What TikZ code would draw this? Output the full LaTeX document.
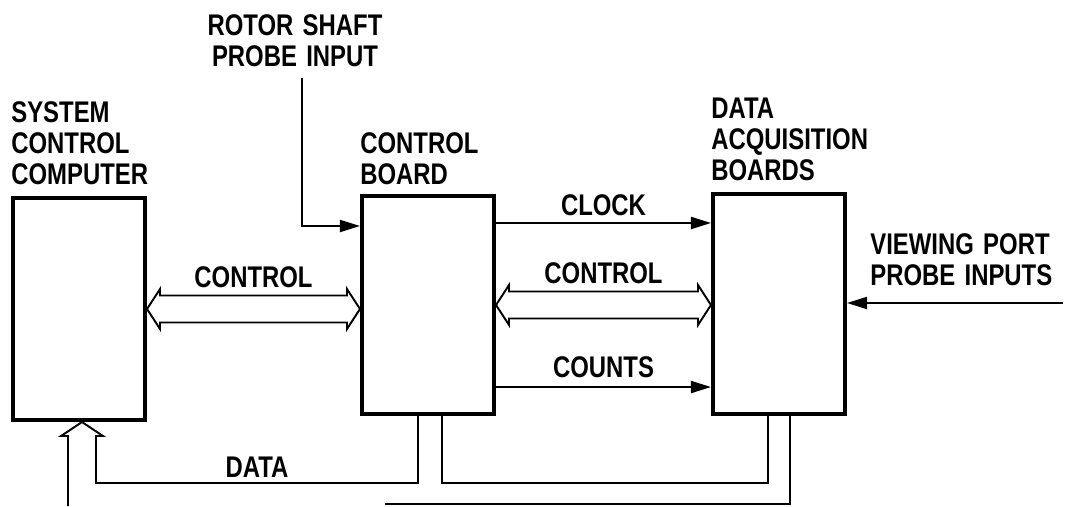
\documentclass[tikz,border=0pt]{standalone}
\usepackage{fontspec}
\newfontfamily\lblfont[FakeStretch=0.8,WordSpace=1.4]{Liberation Sans}
\usetikzlibrary{arrows.meta,positioning,calc}

\begin{document}
\begin{tikzpicture}[
  blk/.style={draw, line width=2.3pt, minimum width=2.64cm, inner sep=0pt},
  lbl/.style={font=\lblfont\bfseries\fontsize{17}{17.6}\selectfont, inner sep=0pt, align=left},
  sig/.style={line width=1.1pt, -{Triangle[length=0.4cm,width=0.24cm]}},
  bus/.style={line width=1.1pt, line join=miter},
]
\useasboundingbox (0,0) rectangle (21.4,10.12);

% Blocks
\node[blk, minimum height=4.44cm] (comp) at (1.58,3.94) {};
\node[blk, minimum height=4.36cm] (ctrl) at (8.56,4.02) {};
\node[blk, minimum height=4.40cm] (daq) at (15.58,4.04) {};

% Block titles
\node[lbl, anchor=south west] (tcomp) at ([yshift=0.22cm]comp.north west) {SYSTEM\\CONTROL\\COMPUTER};
\node[lbl, anchor=south west] (tctrl) at ([yshift=0.18cm]ctrl.north west) {CONTROL\\BOARD};
\node[lbl, anchor=south west] (tdaq) at ([yshift=0.22cm]daq.north west) {DATA\\ACQUISITION\\BOARDS};

% Probe inputs
\coordinate (rot) at (6.04,8.56);
\coordinate (view) at (21.26,4.06);
\node[lbl, align=center, anchor=north] (trot) at (5.9,9.84) {ROTOR SHAFT\\PROBE INPUT};
\node[lbl, anchor=north west] (tview) at (17.4,5.46) {VIEWING PORT\\PROBE INPUTS};
\draw[sig] (rot) |- ([yshift=-0.64cm]ctrl.north west);
\draw[sig] (view) -- (view -| daq.east);

% Clock and counts
\draw[sig] ([yshift=-0.58cm]ctrl.north east) -- ([yshift=-0.58cm]ctrl.north east -| daq.west)
  node[lbl, midway, above=0.13cm] (tclock) {CLOCK};
\draw[sig] ([yshift=0.58cm]ctrl.south east) -- ([yshift=0.58cm]ctrl.south east -| daq.west)
  node[lbl, midway, above=0.16cm] (tcounts) {COUNTS};

% Control buses
\draw[bus] (comp.east) -- ++(0.26,0.4) -- ++(0,-0.13) -- ($(comp.east -| ctrl.west)+(-0.26,0.27)$)
  -- ++(0,0.13) -- (comp.east -| ctrl.west) -- ++(-0.26,-0.4) -- ++(0,0.13)
  -- ($(comp.east)+(0.26,-0.27)$) -- ++(0,-0.13) -- cycle;
\node[lbl, above=0.42cm] (tctl1) at ($(comp.east)!0.5!(comp.east -| ctrl.west)$) {CONTROL};

\draw[bus] (ctrl.east) -- ++(0.26,0.4) -- ++(0,-0.13) -- ($(ctrl.east -| daq.west)+(-0.26,0.27)$)
  -- ++(0,0.13) -- (ctrl.east -| daq.west) -- ++(-0.26,-0.4) -- ++(0,0.13)
  -- ($(ctrl.east)+(0.26,-0.27)$) -- ++(0,-0.13) -- cycle;
\node[lbl, above=0.42cm] (tctl2) at ($(ctrl.east)!0.5!(ctrl.east -| daq.west)$) {CONTROL};

% Data bus
\coordinate (dtip) at ([xshift=0.06cm]comp.south);
\coordinate (dl) at ([shift={(-0.28,-0.28)}]dtip);
\coordinate (dr) at ([shift={(0.28,-0.28)}]dtip);
\coordinate (lvl0) at (0,0);
\coordinate (lvl1) at (0,0.46);
\coordinate (c1) at ([xshift=-0.2cm]ctrl.south);
\coordinate (c2) at ([xshift=0.28cm]ctrl.south);
\coordinate (d1) at ([xshift=-0.22cm]daq.south);
\coordinate (d2) at ([xshift=0.22cm]daq.south);
\coordinate (bend) at (7.7,0.04);
\draw[bus] (dl |- lvl0) -- (dl) -- ++(-0.14,0) -- (dtip) -- ([xshift=0.14cm]dr) -- (dr) |- (c1 |- lvl1) -- (c1);
\draw[bus] (c2) |- (d1 |- lvl1) -- (d1);
\draw[bus] (d2) |- (bend);
\node[lbl, anchor=south] (tdata) at (5.14,0.56) {DATA};

\end{tikzpicture}
\end{document}
